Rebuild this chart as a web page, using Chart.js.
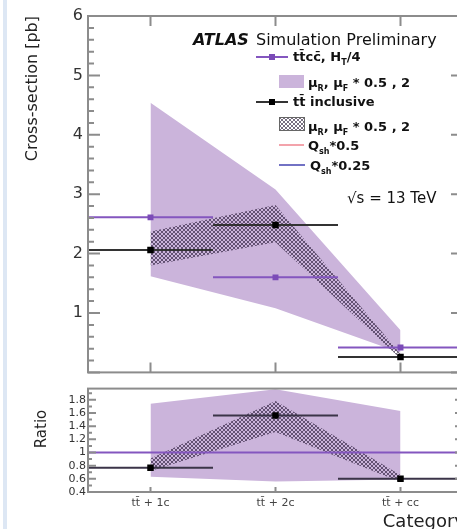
<!DOCTYPE html>
<html>
<head>
<meta charset="utf-8">
<script src="https://cdn.jsdelivr.net/npm/chart.js@4.4.1/dist/chart.umd.min.js"></script>
<style>
  html, body { margin: 0; padding: 0; background: #fff; width: 457px; height: 529px; overflow: hidden; }
  #strip { position: absolute; left: 3px; top: 0; width: 4px; height: 529px; background: #dde7f4; }
  canvas { position: absolute; left: 0; }
  #main { top: 0; }
  #ratio { top: 380px; }
</style>
</head>
<body>
<div id="strip"></div>
<canvas id="main" width="480" height="387"></canvas>
<canvas id="ratio" width="480" height="149"></canvas>
<script>
// Cross-sections per category [pb]
const CATEGORIES = ['tt\u0304 + 1c', 'tt\u0304 + 2c', 'tt\u0304 + cc'];
const TTCC_XSEC     = [2.61, 1.60, 0.42];
const TTCC_SCALE_UP = [4.54, 3.08, 0.71];
const TTCC_SCALE_DN = [1.62, 1.08, 0.33];
const INCL_XSEC     = [2.06, 2.48, 0.26];
const INCL_SCALE_UP = [2.37, 2.82, 0.31];
const INCL_SCALE_DN = [1.80, 2.19, 0.23];

// Ratio panel: tt inclusive over ttcc
const RATIO         = [0.77, 1.56, 0.60];
const RATIO_TTCC_UP = [1.74, 1.96, 1.63];
const RATIO_TTCC_DN = [0.63, 0.56, 0.59];
const RATIO_INCL_UP = [0.91, 1.78, 0.66];
const RATIO_INCL_DN = [0.72, 1.31, 0.55];
const RATIO_REF     = 1;

const XSEC_TICKS  = [0, 1, 2, 3, 4, 5, 6];
const RATIO_TICKS = [0.4, 0.6, 0.8, 1, 1.2, 1.4, 1.6, 1.8];

const PURPLE = '#8456bf';
const PURPLE_MARK = '#7b4bb7';
const BAND = '#cbb4db';
const BLACK_LINE = '#333';
const AXIS = '#8c8c8c';
const FONT = '"DejaVu Sans", sans-serif';

// ring mesh used for the tt inclusive scale band
function hatchPattern() {
  const c = document.createElement('canvas');
  c.width = 4; c.height = 4;
  const g = c.getContext('2d');
  g.fillStyle = 'rgba(30,15,45,0.6)';
  [[1,0],[2,0],[0,1],[3,1],[0,2],[3,2],[1,3],[2,3]].forEach(([px, py]) => g.fillRect(px, py, 1, 1));
  return g.createPattern(c, 'repeat');
}
const HATCH = hatchPattern();

const atCats = vals => vals.map((v, i) => ({x: i, y: v}));
const overBins = vals => vals.flatMap((v, i) => [{x: i - 0.5, y: v}, {x: i + 0.5, y: v}, {x: i + 0.5, y: null}]);

function band(lo, hi, fillStyle, order) {
  return [
    {data: atCats(lo), borderColor: 'rgba(0,0,0,0)', pointRadius: 0, fill: false, order},
    {data: atCats(hi), borderColor: 'rgba(0,0,0,0)', pointRadius: 0, fill: '-1', backgroundColor: fillStyle, order}
  ];
}
function bars(vals, color, order) {
  return {data: overBins(vals), borderColor: color, borderWidth: 2, pointRadius: 0, fill: false, order};
}
function markers(vals, color, r, order) {
  return {data: atCats(vals), showLine: false, pointStyle: 'rect', pointRadius: r,
          pointBackgroundColor: color, pointBorderWidth: 0, order};
}

// ROOT-like frame: box, inward ticks on all sides, axis titles
const framePlugin = {
  id: 'frame',
  afterDatasetsDraw(chart, args, o) {
    const {ctx, chartArea: a, scales: {x, y}} = chart;
    ctx.save();
    ctx.strokeStyle = AXIS;
    ctx.lineWidth = 2;
    ctx.strokeRect(a.left, a.top, a.right - a.left, a.bottom - a.top);
    ctx.beginPath();
    const n = Math.floor((y.max - y.min) / o.yMinor + 1e-6);
    for (let k = 0; k <= n; k++) {
      const v = y.min + k * o.yMinor;
      const r = v / o.yMajor;
      const len = Math.abs(r - Math.round(r)) < 1e-6 ? o.majorLen : o.minorLen;
      const py = y.getPixelForValue(v);
      ctx.moveTo(a.left, py); ctx.lineTo(a.left + len, py);
      ctx.moveTo(a.right, py); ctx.lineTo(a.right - len, py);
    }
    CATEGORIES.forEach((c, i) => {
      const px = x.getPixelForValue(i);
      if (o.topLen) { ctx.moveTo(px, a.top); ctx.lineTo(px, a.top + o.topLen); }
      if (o.bottomLen) { ctx.moveTo(px, a.bottom); ctx.lineTo(px, a.bottom - o.bottomLen); }
    });
    ctx.stroke();

    ctx.fillStyle = '#222';
    if (o.yTitle) {
      ctx.save();
      ctx.font = o.yTitle.size + 'px ' + FONT;
      ctx.translate(o.yTitle.x, o.yTitle.y);
      ctx.rotate(-Math.PI / 2);
      ctx.textAlign = o.yTitle.align;
      ctx.textBaseline = 'middle';
      ctx.fillText(o.yTitle.text, 0, 0);
      ctx.restore();
    }
    if (o.xTitle) {
      ctx.font = o.xTitle.size + 'px ' + FONT;
      ctx.textAlign = 'right';
      ctx.fillText(o.xTitle.text, o.xTitle.x, o.xTitle.y);
    }
    ctx.restore();
  }
};

function richText(ctx, x, y, parts, size, weight) {
  for (const [txt, sub] of parts) {
    ctx.font = weight + ' ' + (sub ? Math.round(size * 0.65) : size) + 'px ' + FONT;
    ctx.fillText(txt, x, sub ? y + size * 0.3 : y);
    x += ctx.measureText(txt).width;
  }
}

const legendPlugin = {
  id: 'atlasLegend',
  afterDraw(chart) {
    const ctx = chart.ctx;
    ctx.save();
    ctx.fillStyle = '#111';
    ctx.font = 'bold italic 16px ' + FONT;
    ctx.fillText('ATLAS', 193, 45);
    ctx.font = '16px ' + FONT;
    ctx.fillText('Simulation Preliminary', 256, 45);

    const line = (x0, x1, y, color, mark) => {
      ctx.strokeStyle = color; ctx.lineWidth = 2;
      ctx.beginPath(); ctx.moveTo(x0, y); ctx.lineTo(x1, y); ctx.stroke();
      if (mark) { ctx.fillStyle = mark; ctx.fillRect((x0 + x1) / 2 - 3, y - 3, 6, 6); }
    };

    line(256, 288, 57, PURPLE, PURPLE_MARK);
    ctx.fillStyle = BAND;
    ctx.fillRect(279, 75, 25, 13);
    line(256, 288, 102, BLACK_LINE, '#000');
    ctx.fillStyle = '#fff';
    ctx.fillRect(279, 117, 25, 13);
    ctx.fillStyle = HATCH;
    ctx.fillRect(279, 117, 25, 13);
    ctx.strokeStyle = '#666'; ctx.lineWidth = 1;
    ctx.strokeRect(279.5, 117.5, 25, 13);
    line(279, 304, 145, '#f3a3ab');
    line(279, 305, 165, '#7272c4');

    ctx.fillStyle = '#111';
    const mu = [['\u03bc'], ['R', 1], [', \u03bc'], ['F', 1], [' * 0.5 , 2']];
    richText(ctx, 293, 61, [['tt\u0304cc\u0304, H'], ['T', 1], ['/4']], 13, 'bold');
    richText(ctx, 308, 87, mu, 13, 'bold');
    richText(ctx, 293, 106, [['tt\u0304 inclusive']], 13, 'bold');
    richText(ctx, 308, 131, mu, 13, 'bold');
    richText(ctx, 308, 150, [['Q'], ['sh', 1], ['*0.5']], 13, 'bold');
    richText(ctx, 310, 170, [['Q'], ['sh', 1], ['*0.25']], 13, 'bold');

    ctx.font = '15px ' + FONT;
    ctx.fillText('\u221as = 13 TeV', 347, 203);
    ctx.restore();
  }
};

const xRange = {type: 'linear', min: -0.5, max: CATEGORIES.length - 0.5};

new Chart(document.getElementById('main'), {
  type: 'line',
  data: {
    datasets: [
      ...band(TTCC_SCALE_DN, TTCC_SCALE_UP, BAND, 4),
      ...band(INCL_SCALE_DN, INCL_SCALE_UP, HATCH, 3),
      bars(TTCC_XSEC, PURPLE, 2),
      bars(INCL_XSEC, BLACK_LINE, 2),
      markers(TTCC_XSEC, PURPLE_MARK, 4.2, 1),
      markers(INCL_XSEC, '#000', 4.6, 0)
    ]
  },
  options: {
    responsive: false, animation: false, events: [],
    layout: {padding: {top: 16, right: 17, bottom: 1, left: 0}},
    elements: {line: {tension: 0}},
    scales: {
      x: {...xRange, display: false},
      y: {
        min: XSEC_TICKS[0], max: XSEC_TICKS[XSEC_TICKS.length - 1],
        afterBuildTicks: s => { s.ticks = XSEC_TICKS.map(v => ({value: v})); },
        afterFit: s => { s.width = 88; },
        grid: {display: false, drawTicks: false},
        border: {display: false},
        ticks: {padding: 5, color: '#333', autoSkip: false, font: {family: FONT, size: 16},
                callback: v => v === 0 ? '' : String(v)}
      }
    },
    plugins: {
      legend: {display: false}, tooltip: {enabled: false},
      frame: {yMajor: 1, yMinor: 0.2, majorLen: 12, minorLen: 6, topLen: 10, bottomLen: 10,
              yTitle: {text: 'Cross-section [pb]', x: 33, y: 16, size: 16, align: 'right'}}
    }
  },
  plugins: [framePlugin, legendPlugin]
});

new Chart(document.getElementById('ratio'), {
  type: 'line',
  data: {
    datasets: [
      ...band(RATIO_TTCC_DN, RATIO_TTCC_UP, BAND, 4),
      ...band(RATIO_INCL_DN, RATIO_INCL_UP, HATCH, 3),
      {data: [{x: xRange.min, y: RATIO_REF}, {x: xRange.max, y: RATIO_REF}],
       borderColor: PURPLE, borderWidth: 2, pointRadius: 0, fill: false, order: 2},
      bars(RATIO, '#3b3448', 2),
      markers(RATIO, '#000', 4.6, 0)
    ]
  },
  options: {
    responsive: false, animation: false, events: [],
    layout: {padding: {top: 6, right: 17, bottom: 0, left: 0}},
    elements: {line: {tension: 0}},
    scales: {
      x: {
        ...xRange,
        afterBuildTicks: s => { s.ticks = CATEGORIES.map((c, i) => ({value: i})); },
        afterFit: s => { s.height = 37; },
        grid: {display: false, drawTicks: false},
        border: {display: false},
        ticks: {padding: 5, color: '#444', maxRotation: 0, autoSkip: false, font: {family: FONT, size: 11},
                callback: v => CATEGORIES[v]}
      },
      y: {
        min: 0.4, max: 1.97,
        afterBuildTicks: s => { s.ticks = RATIO_TICKS.map(v => ({value: v})); },
        afterFit: s => { s.width = 88; },
        grid: {display: false, drawTicks: false},
        border: {display: false},
        ticks: {padding: 2, color: '#333', autoSkip: false, font: {family: FONT, size: 11},
                callback: v => String(Math.round(v * 10) / 10)}
      }
    },
    plugins: {
      legend: {display: false}, tooltip: {enabled: false},
      frame: {yMajor: 0.2, yMinor: 0.1, majorLen: 8, minorLen: 4, topLen: 0, bottomLen: 5,
              yTitle: {text: 'Ratio', x: 42, y: 49, size: 15, align: 'center'},
              xTitle: {text: 'Category', x: 465, y: 147, size: 18}}
    }
  },
  plugins: [framePlugin]
});
</script>
</body>
</html>
